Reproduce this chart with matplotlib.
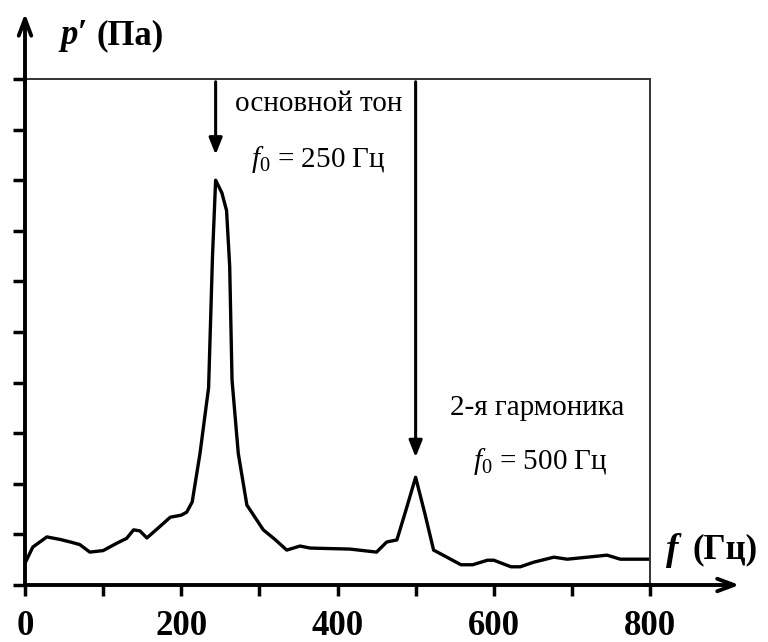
import matplotlib
matplotlib.use("Agg")
import matplotlib.pyplot as plt

# spectrum (f in Hz, p' in arbitrary tick units)
freq = [0, 10, 28, 45, 58, 70, 83, 100, 118, 130, 139, 147, 156, 170, 186, 200, 207,
        214, 224, 235, 240, 244, 252, 258, 262, 265, 273, 284, 305, 320, 335, 352,
        365, 390, 416, 450, 463, 476, 488, 500, 512, 523, 540, 558, 573, 592, 600,
        622, 634, 651, 677, 694, 720, 745, 762, 797]
amp = [0.43, 0.75, 0.95, 0.9, 0.85, 0.8, 0.65, 0.68, 0.83, 0.92, 1.09, 1.07, 0.93, 1.12,
       1.34, 1.38, 1.44, 1.64, 2.6, 3.9, 6.5, 8.0, 7.75, 7.4, 6.3, 4.05, 2.6, 1.58,
       1.09, 0.9, 0.69, 0.77, 0.73, 0.72, 0.71, 0.65, 0.85, 0.89, 1.5, 2.13, 1.4,
       0.69, 0.55, 0.40, 0.40, 0.49, 0.49, 0.36, 0.36, 0.45, 0.55, 0.51, 0.55, 0.59,
       0.51, 0.51]

xticks_major = [0, 200, 400, 600, 800]
xticks_minor = [100, 300, 500, 700]
yticks = list(range(0, 11))

peak1 = (244, 8.45)
peak2 = (500, 2.47)
label1 = ["основной тон", "$f_0$ = 250 Гц"]
label2 = ["2-я гармоника", "$f_0$ = 500 Гц"]

plt.rcParams['font.family'] = ['Liberation Serif', 'DejaVu Serif']
plt.rcParams['mathtext.fontset'] = 'custom'
plt.rcParams['mathtext.rm'] = 'Liberation Serif'
plt.rcParams['mathtext.it'] = 'Liberation Serif:italic'
plt.rcParams['mathtext.bf'] = 'Liberation Serif:bold'

fig = plt.figure(figsize=(7.68, 6.42), dpi=100)
ax = fig.add_axes([25/768, 57/642, 625/768, 506/642])

ax.plot(freq, amp, color='black', lw=2.4)

ax.set_xlim(0, 800)
ax.set_ylim(0, 10)
for s in ['top', 'right']:
    ax.spines[s].set_visible(False)
for s in ['left', 'bottom']:
    ax.spines[s].set_linewidth(2.8)

ax.set_xticks(xticks_major)
ax.set_xticks(xticks_minor, minor=True)
ax.set_xticklabels([str(v) for v in xticks_major], fontsize=25, fontweight='bold')
ax.tick_params(axis='x', which='both', direction='out', length=8, width=2.5, pad=10)
ax.set_yticks(yticks)
ax.set_yticklabels([])
ax.tick_params(axis='y', direction='out', length=9, width=2.5)

# thin frame on top and right
ax.plot([0, 800], [10, 10], color='#333333', lw=1.4, clip_on=False)
ax.plot([800, 800], [0, 10], color='#333333', lw=1.4, clip_on=False)

# axis arrows
ax.annotate('', xy=(0, 11.35), xytext=(0, 9.9), annotation_clip=False,
            arrowprops=dict(arrowstyle='->,head_length=1.2,head_width=0.45', lw=2.8, color='black'))
ax.annotate('', xy=(918, 0), xytext=(790, 0), annotation_clip=False,
            arrowprops=dict(arrowstyle='->,head_length=1.2,head_width=0.45', lw=2.8, color='black'))

# peak arrows
ax.annotate('', xy=peak1, xytext=(peak1[0], 10), annotation_clip=False,
            arrowprops=dict(arrowstyle='-|>,head_length=1.0,head_width=0.4', lw=2.2, color='black'))
ax.annotate('', xy=peak2, xytext=(peak2[0], 10), annotation_clip=False,
            arrowprops=dict(arrowstyle='-|>,head_length=1.0,head_width=0.4', lw=2.2, color='black'))

ax.text(269, 9.5, label1[0], fontsize=21, va='center', ha='left')
ax.text(375, 8.4, label1[1], fontsize=21, va='center', ha='center')
ax.text(656, 3.5, label2[0], fontsize=21, va='center', ha='center')
ax.text(659, 2.45, label2[1], fontsize=21, va='center', ha='center')

# axis titles
fig.text(60/768, 1 - 36/642, "p\u2032", fontsize=25, fontweight='bold', fontstyle='italic',
         va='center', ha='left')
fig.text(97/768, 1 - 36/642, "(Па)", fontsize=25, fontweight='bold', va='center', ha='left')
fig.text(666/768, 1 - 550/642, "f", fontsize=27, fontweight='bold', fontstyle='italic',
         va='center', ha='left')
fig.text(693/768, 1 - 550/642, "(Гц)", fontsize=25, fontweight='bold', va='center', ha='left')

fig.savefig('out.png', dpi=100)
